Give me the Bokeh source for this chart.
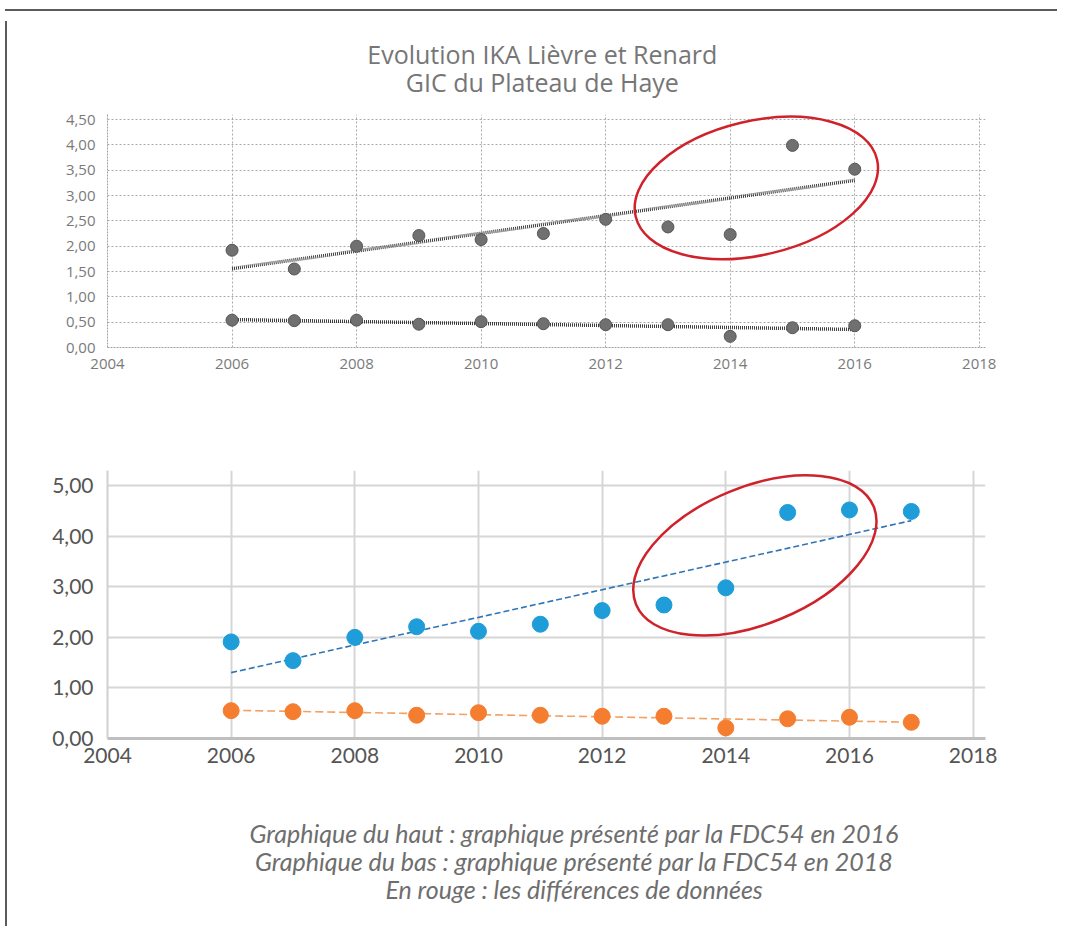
import numpy as np
from bokeh.plotting import figure
from bokeh.models import FixedTicker, Label, Div, Spacer, Range1d
from bokeh.layouts import column, row
from bokeh.embed import file_html
from bokeh.resources import INLINE

# ---------------- data ----------------
# Top chart (FDC54, 2016)
years_2016 = [2006, 2007, 2008, 2009, 2010, 2011, 2012, 2013, 2014, 2015, 2016]
lievre_2016 = [1.92, 1.55, 2.00, 2.21, 2.13, 2.25, 2.53, 2.38, 2.23, 3.99, 3.52]
renard_2016 = [0.54, 0.53, 0.54, 0.46, 0.51, 0.47, 0.45, 0.45, 0.22, 0.39, 0.43]

# Bottom chart (FDC54, 2018)
years_2018 = [2006, 2007, 2008, 2009, 2010, 2011, 2012, 2013, 2014, 2015, 2016, 2017]
lievre_2018 = [1.91, 1.54, 2.00, 2.21, 2.12, 2.26, 2.53, 2.64, 2.98, 4.47, 4.52, 4.49]
renard_2018 = [0.55, 0.53, 0.55, 0.46, 0.51, 0.46, 0.44, 0.44, 0.21, 0.39, 0.42, 0.32]

x_ticks = [2004, 2006, 2008, 2010, 2012, 2014, 2016, 2018]
x_tick_labels = ["2004", "2006", "2008", "2010", "2012", "2014", "2016", "2018"]
y_ticks_top = [0.0, 0.5, 1.0, 1.5, 2.0, 2.5, 3.0, 3.5, 4.0, 4.5]
y_labels_top = ["0,00", "0,50", "1,00", "1,50", "2,00", "2,50", "3,00", "3,50", "4,00", "4,50"]
y_ticks_bot = [0, 1, 2, 3, 4, 5]
y_labels_bot = ["0,00", "1,00", "2,00", "3,00", "4,00", "5,00"]

title_lines = ["Evolution IKA Lièvre et Renard", "GIC du Plateau de Haye"]
caption_lines = [
    "Graphique du haut : graphique présenté par la FDC54 en 2016",
    "Graphique du bas : graphique présenté par la FDC54 en 2018",
    "En rouge : les différences de données",
]


def trend(xs, ys):
    k, b = np.polyfit(xs, ys, 1)
    x0, x1 = xs[0], xs[-1]
    return [x0, x1], [k * x0 + b, k * x1 + b]


RED = "#d0222a"
W = 1048


def text_panel(height):
    f = figure(width=W, height=height, x_range=Range1d(0, W), y_range=Range1d(height, 0),
               x_axis_type=None, y_axis_type=None, output_backend="svg", toolbar_location=None,
               min_border=0, outline_line_color=None,
               background_fill_color="white", border_fill_color="white")
    return f


# ---------------- title panel ----------------
pt = text_panel(93)
for txt, yy in zip(title_lines, [37, 65]):
    pt.add_layout(Label(x=519, y=yy, text=txt, text_align="center", text_baseline="middle",
                        text_font="Open Sans", text_font_size="25px", text_color="#767676"))

# ---------------- top chart ----------------
p1 = figure(width=W, height=293, x_range=(2004, 2018.1), y_range=(0, 4.6),
            output_backend="svg", toolbar_location=None,
            min_border_left=89, min_border_right=75, min_border_top=5, min_border_bottom=55,
            background_fill_color="white", border_fill_color="white", outline_line_color=None)

p1.xaxis.ticker = FixedTicker(ticks=x_ticks)
p1.xaxis.major_label_overrides = dict(zip(x_ticks, x_tick_labels))
p1.yaxis.ticker = FixedTicker(ticks=y_ticks_top)
p1.yaxis.major_label_overrides = dict(zip(y_ticks_top, y_labels_top))
for ax in (p1.xaxis, p1.yaxis):
    ax.major_tick_line_color = None
    ax.minor_tick_line_color = None
    ax.axis_line_color = "#a0a0a0"
    ax.axis_line_dash = "2 1"
    ax.major_label_text_font = "Open Sans"
    ax.major_label_text_font_size = "15px"
    ax.major_label_text_color = "#7a7a7a"
p1.xaxis.major_label_standoff = 5
p1.yaxis.major_label_standoff = 6
for g in (p1.xgrid, p1.ygrid):
    g.grid_line_color = "#a8a8a8"
    g.grid_line_dash = "2 2"
    g.grid_line_width = 1

tx, ty = trend(years_2016, lievre_2016)
p1.line(tx, ty, line_color="#3c3c3c", line_width=3.5, line_dash="1 1")
tx, ty = trend(years_2016, renard_2016)
p1.line(tx, ty, line_color="#3c3c3c", line_width=3.5, line_dash="1 1")
p1.scatter(years_2016, lievre_2016, size=12, fill_color="#707070", line_color="#555555")
p1.scatter(years_2016, renard_2016, size=12, fill_color="#707070", line_color="#555555")

p1.ellipse(x=[2014.42], y=[3.15], width=248, height=134, angle=13.3, angle_units="deg",
           width_units="screen", height_units="screen",
           fill_color=None, line_color=RED, line_width=2.5)

# ---------------- bottom chart ----------------
p2 = figure(width=W, height=400, x_range=(2004, 2018.2), y_range=(0, 5.3),
            output_backend="svg", toolbar_location=None,
            min_border_left=95, min_border_right=63, min_border_top=68, min_border_bottom=64,
            background_fill_color="white", border_fill_color="white", outline_line_color=None)

p2.xaxis.ticker = FixedTicker(ticks=x_ticks)
p2.xaxis.major_label_overrides = dict(zip(x_ticks, x_tick_labels))
p2.yaxis.ticker = FixedTicker(ticks=y_ticks_bot)
p2.yaxis.major_label_overrides = dict(zip(y_ticks_bot, y_labels_bot))
for ax in (p2.xaxis, p2.yaxis):
    ax.major_tick_line_color = None
    ax.minor_tick_line_color = None
    ax.major_label_text_font = "Lato"
    ax.major_label_text_font_size = "21px"
    ax.major_label_text_color = "#555555"
p2.yaxis.axis_line_color = "#d0d0d0"
p2.yaxis.axis_line_width = 2
p2.xaxis.axis_line_color = "#bfbfbf"
p2.xaxis.axis_line_width = 3
p2.xaxis.major_label_standoff = 3
p2.yaxis.major_label_standoff = 8
for g in (p2.xgrid, p2.ygrid):
    g.grid_line_color = "#d6d6d6"
    g.grid_line_width = 2

tx, ty = trend(years_2018, lievre_2018)
p2.line(tx, ty, line_color="#2e75b6", line_width=1.6, line_dash="6 3")
tx, ty = trend(years_2018, renard_2018)
p2.line(tx, ty, line_color="#f4a062", line_width=1.6, line_dash="8 4")
p2.scatter(years_2018, lievre_2018, size=16, fill_color="#1e9dd9", line_color="#1e9dd9")
p2.scatter(years_2018, renard_2018, size=16, fill_color="#f47d30", line_color="#f47d30")

p2.ellipse(x=[2014.47], y=[3.62], width=257, height=137, angle=22.4, angle_units="deg",
           width_units="screen", height_units="screen",
           fill_color=None, line_color=RED, line_width=2.5)

# ---------------- caption panel ----------------
pc = text_panel(119)
for txt, yy in zip(caption_lines, [30, 58, 86]):
    pc.add_layout(Label(x=557, y=yy, text=txt, text_align="center", text_baseline="middle",
                        text_font="Lato", text_font_style="italic", text_font_size="25px",
                        text_color="#6e6e6e"))

# ---------------- frame & layout ----------------
top_gap = Spacer(width=1052, height=4)
top_line = Div(text="", width=1052, height=2, styles={"background-color": "#5b5b5b"})
left_line = Div(text="", width=2, height=905, styles={"background-color": "#5b5b5b"})
layout = column(top_gap, top_line, row(left_line, column(pt, p1, p2, pc)))

open("out.html", "w").write(file_html(layout, INLINE))
